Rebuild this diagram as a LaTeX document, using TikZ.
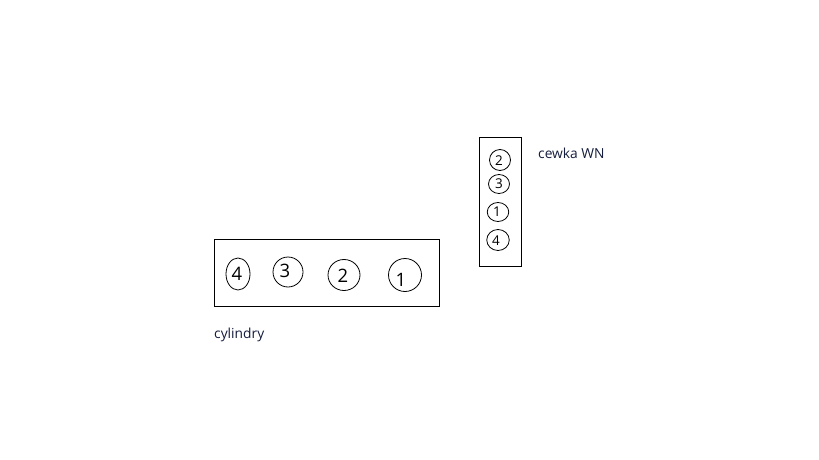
\documentclass[tikz,border=0pt]{standalone}
\usepackage{fontspec}
\setmainfont{Open Sans}
\usetikzlibrary{shapes.geometric}
\definecolor{lbl}{RGB}{20,28,60}
\begin{document}
\begin{tikzpicture}[x=1pt,y=-1pt,
  box/.style={draw,line width=0.9pt},
  hole/.style={draw,ellipse,line width=0.8pt,inner sep=0pt},
  bignum/.style={inner sep=0pt,font=\fontsize{18.5}{18}\selectfont},
  smallnum/.style={inner sep=0pt,font=\fontsize{13.5}{13}\selectfont},
  lab/.style={inner sep=0pt,anchor=west,text=lbl,font=\fontsize{13.8}{14}\selectfont}]
\useasboundingbox (0,0) rectangle (819,460);
% cylinders
\draw[box] (214,239) rectangle (439,306);
\node[hole,minimum width=24pt,minimum height=32pt] (c4) at (238,274) {};
\node[hole,minimum width=30pt,minimum height=30pt] (c3) at (288,272) {};
\node[hole,minimum width=32pt,minimum height=31pt] (c2) at (344,275) {};
\node[hole,minimum width=33pt,minimum height=33pt] (c1) at (405,275) {};
\node[bignum] (n4) at (237,274) {4};
\node[bignum] (n3) at (285,271) {3};
\node[bignum] (n2) at (343,276) {2};
\node[bignum] (n1) at (401,280) {1};
\node[lab] (cyl) at (214,335) {cylindry};
% coil
\draw[box] (479,137) rectangle (521,266);
\node[hole,minimum width=21pt,minimum height=21pt] (w2) at (500,160) {};
\node[hole,minimum width=21pt,minimum height=19pt] (w3) at (499,184) {};
\node[hole,minimum width=21.5pt,minimum height=19pt] (w1) at (498,212) {};
\node[hole,minimum width=22.5pt,minimum height=21pt] (w4) at (498,240) {};
\node[smallnum] (m2) at (499,161) {2};
\node[smallnum] (m3) at (499,184) {3};
\node[smallnum] (m1) at (497,212) {1};
\node[smallnum] (m4) at (496,241) {4};
\node[lab] (cw) at (538,153) {cewka WN};
\end{tikzpicture}
\end{document}
